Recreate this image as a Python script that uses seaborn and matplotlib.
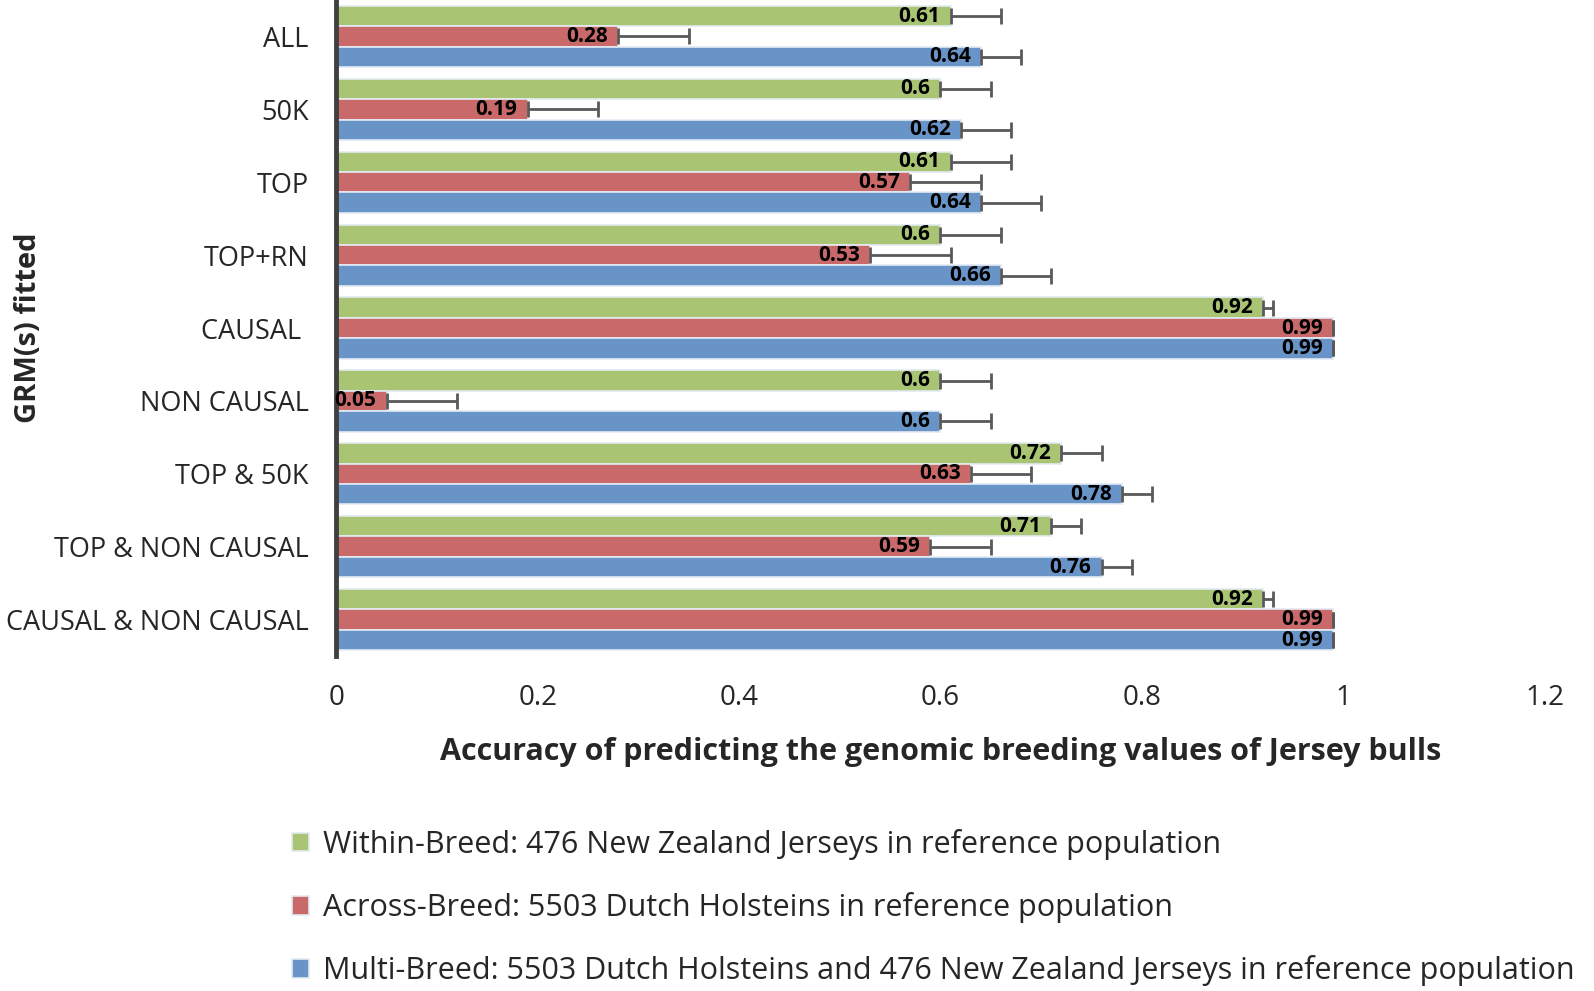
import seaborn as sns
import matplotlib.pyplot as plt
import pandas as pd
import numpy as np

# Data
groups = ["ALL", "50K", "TOP", "TOP+RN", "CAUSAL ", "NON CAUSAL",
          "TOP & 50K", "TOP & NON CAUSAL", "CAUSAL & NON CAUSAL"]
series = ["Within-Breed: 476 New Zealand Jerseys in reference population",
          "Across-Breed: 5503 Dutch Holsteins in reference population",
          "Multi-Breed: 5503 Dutch Holsteins and 476 New Zealand Jerseys in reference population"]
within = [0.61, 0.6, 0.61, 0.6, 0.92, 0.6, 0.72, 0.71, 0.92]
across = [0.28, 0.19, 0.57, 0.53, 0.99, 0.05, 0.63, 0.59, 0.99]
multi = [0.64, 0.62, 0.64, 0.66, 0.99, 0.6, 0.78, 0.76, 0.99]
err_within = [0.05, 0.05, 0.06, 0.06, 0.01, 0.05, 0.04, 0.03, 0.01]
err_across = [0.07, 0.07, 0.07, 0.08, 0.0, 0.07, 0.06, 0.06, 0.0]
err_multi = [0.04, 0.05, 0.06, 0.05, 0.0, 0.05, 0.03, 0.03, 0.0]
xticks = [0, 0.2, 0.4, 0.6, 0.8, 1, 1.2]

colors = ["#A9C574", "#C9696A", "#6894C7"]

df = pd.DataFrame({
    "group": groups * 3,
    "series": np.repeat(series, len(groups)),
    "value": within + across + multi,
})
errors = [err_within, err_across, err_multi]

sns.set_theme(style="white")
plt.rcParams['font.family'] = ['Open Sans', 'DejaVu Sans']

fig = plt.figure(figsize=(15.94, 9.91), dpi=100)
ax = fig.add_axes([0.211, 0.338, 0.758, 0.662])

sns.barplot(data=df, y="group", x="value", hue="series", hue_order=series,
            palette=colors, saturation=1, width=0.84, orient="h", ax=ax,
            edgecolor="#E3EAF2", linewidth=1.2, errorbar=None)

# error bars (positive side only) and value labels
for cont, err, vals in zip(ax.containers, errors, [within, across, multi]):
    ys = [b.get_y() + b.get_height() / 2 for b in cont]
    ax.errorbar(vals, ys, xerr=[np.zeros(len(err)), err], fmt="none",
                ecolor="#595959", elinewidth=2, capsize=6, capthick=2)
    for b, v, y in zip(cont, vals, ys):
        ax.text(v - 0.01, y, f"{v:g}", ha="right", va="center",
                fontsize=15, fontweight="bold", color="black")

ax.set_xlim(0, 1.2)
ax.set_xticks(xticks)
ax.set_xticklabels([f"{t:g}" for t in xticks], fontsize=20)
ax.set_ylim(len(groups) - 0.5, -0.5)
ax.tick_params(axis="y", length=0, pad=20, labelsize=19.5)
ax.tick_params(axis="x", length=0, pad=20)
for s in ["top", "right", "bottom"]:
    ax.spines[s].set_visible(False)
ax.spines["left"].set_color("#404040")
ax.spines["left"].set_linewidth(3.5)

ax.set_xlabel("Accuracy of predicting the genomic breeding values of Jersey bulls",
              fontsize=22, fontweight="bold", labelpad=18)
ax.set_ylabel("GRM(s) fitted", fontsize=21, fontweight="bold")
ax.yaxis.set_label_coords(-0.243, 0.5)

handles, labels = ax.get_legend_handles_labels()
ax.legend_.remove()
fig.legend(handles, labels, loc="upper left", bbox_to_anchor=(0.17, 0.185),
           frameon=False, fontsize=22, handlelength=0.55, handleheight=0.55,
           handletextpad=0.45, labelspacing=1.05, borderpad=0.2)

fig.savefig("out.png", dpi=100)
